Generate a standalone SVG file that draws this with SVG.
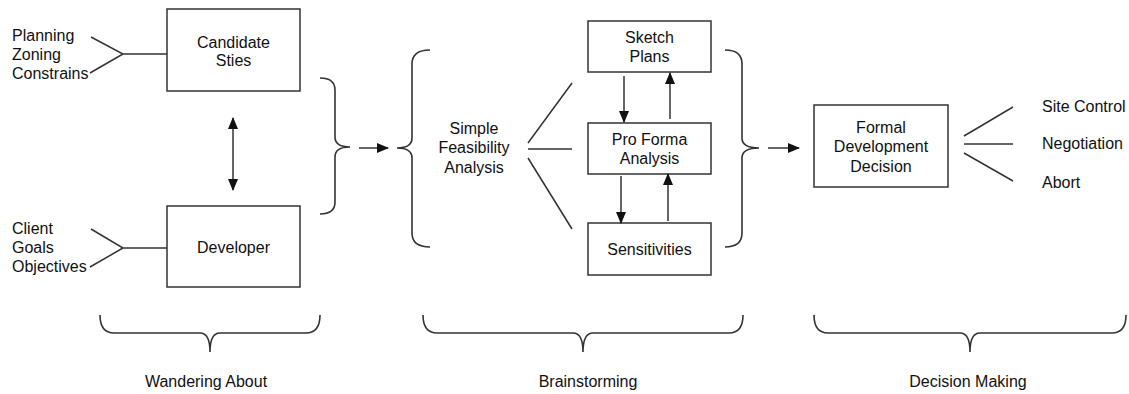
<svg xmlns="http://www.w3.org/2000/svg" width="1129" height="394" viewBox="0 0 1129 394">
<style>
.box{fill:#fff;stroke:#333;stroke-width:1.5}
.ln{fill:none;stroke:#333;stroke-width:1.5}
.br{fill:none;stroke:#333;stroke-width:1.6}
.t{font-family:"Liberation Sans",Arial,sans-serif;font-size:16px;fill:#111}
.c{text-anchor:middle}
</style>
<defs>
<marker id="ah" markerWidth="12" markerHeight="10" refX="11" refY="5" orient="auto" markerUnits="userSpaceOnUse">
<path d="M0,0 L12,5 L0,10 Z" fill="#111"/>
</marker>
<marker id="ahs" markerWidth="12" markerHeight="10" refX="1" refY="5" orient="auto" markerUnits="userSpaceOnUse">
<path d="M12,0 L0,5 L12,10 Z" fill="#111"/>
</marker>
</defs>
<rect width="1129" height="394" fill="#fff"/>

<g id="inputs-site">
<text class="t" x="12" y="41">Planning</text>
<text class="t" x="12" y="60">Zoning</text>
<text class="t" x="12" y="79">Constrains</text>
</g>
<g id="inputs-dev">
<text class="t" x="12" y="234">Client</text>
<text class="t" x="12" y="253">Goals</text>
<text class="t" x="12" y="272">Objectives</text>
</g>

<g id="candidate-sites">
<rect class="box" x="167" y="9" width="133" height="82"/>
<text class="t c" x="233.5" y="48">Candidate</text>
<text class="t c" x="233.5" y="66">Sties</text>
</g>
<g id="developer">
<rect class="box" x="167" y="206" width="133" height="81"/>
<text class="t c" x="233.5" y="253">Developer</text>
</g>

<g id="simple-feasibility">
<text class="t c" x="474" y="134">Simple</text>
<text class="t c" x="474" y="153">Feasibility</text>
<text class="t c" x="474" y="173">Analysis</text>
</g>

<g id="sketch-plans">
<rect class="box" x="588" y="21" width="123" height="51"/>
<text class="t c" x="649.5" y="43">Sketch</text>
<text class="t c" x="649.5" y="62">Plans</text>
</g>
<g id="pro-forma">
<rect class="box" x="588" y="123" width="123" height="51"/>
<text class="t c" x="649.5" y="145">Pro Forma</text>
<text class="t c" x="649.5" y="164">Analysis</text>
</g>
<g id="sensitivities">
<rect class="box" x="588" y="223" width="123" height="52"/>
<text class="t c" x="649.5" y="255">Sensitivities</text>
</g>

<g id="formal-decision">
<rect class="box" x="814" y="105" width="134" height="82"/>
<text class="t c" x="881" y="133">Formal</text>
<text class="t c" x="881" y="152">Development</text>
<text class="t c" x="881" y="172">Decision</text>
</g>

<g id="outcomes">
<text class="t" x="1042" y="112">Site Control</text>
<text class="t" x="1042" y="149">Negotiation</text>
<text class="t" x="1042" y="188">Abort</text>
</g>

<g id="phase-labels">
<text class="t c" x="206" y="387">Wandering About</text>
<text class="t c" x="588" y="387">Brainstorming</text>
<text class="t c" x="968" y="387">Decision Making</text>
</g>

<g id="connectors">
<!-- input fans -->
<path class="ln" d="M91,37 L123,54 L90,73 M123,54 L167,54"/>
<path class="ln" d="M91,229 L123,248 L90,267 M123,248 L167,248"/>
<!-- double arrow -->
<line class="ln" x1="233" y1="118" x2="233" y2="190" marker-start="url(#ahs)" marker-end="url(#ah)"/>
<!-- braces -->
<path class="br" d="M320,78 Q335,78 335,90 L335,137 Q335,147 350,147 Q335,147 335,157 L335,202 Q335,214 320,214"/>
<line class="ln" x1="359" y1="148" x2="388" y2="148" marker-end="url(#ah)"/>
<path class="br" d="M430,50 Q412,50 412,64 L412,138 Q412,148 397,148 Q412,148 412,158 L412,233 Q412,247 430,247"/>
<!-- feasibility fan -->
<path class="ln" d="M528,143 L572,83 M528,149 L572,149 M528,158 L572,229"/>
<!-- loop arrows -->
<line class="ln" x1="624" y1="76" x2="624" y2="122" marker-end="url(#ah)"/>
<line class="ln" x1="670" y1="119" x2="670" y2="73" marker-end="url(#ah)"/>
<line class="ln" x1="621" y1="176" x2="621" y2="223" marker-end="url(#ah)"/>
<line class="ln" x1="668" y1="221" x2="668" y2="174" marker-end="url(#ah)"/>
<!-- closing brace -->
<path class="br" d="M725,50 Q742,50 742,64 L742,138 Q742,148 759,148 Q742,148 742,158 L742,233 Q742,247 725,247"/>
<line class="ln" x1="768" y1="148" x2="799" y2="148" marker-end="url(#ah)"/>
<!-- decision fan -->
<path class="ln" d="M964,136 L1013,107 M964,144 L1013,144 M964,153 L1013,181"/>
<!-- bottom braces -->
<path class="br" d="M100,315 Q100,333 114,333 L200,333 Q210,333 210,352 Q210,333 220,333 L306,333 Q320,333 320,315"/>
<path class="br" d="M423,315 Q423,333 437,333 L573,333 Q583,333 583,352 Q583,333 593,333 L729,333 Q743,333 743,315"/>
<path class="br" d="M814,315 Q814,333 828,333 L960,333 Q970,333 970,352 Q970,333 980,333 L1112,333 Q1126,333 1126,315"/>
</g>
</svg>
